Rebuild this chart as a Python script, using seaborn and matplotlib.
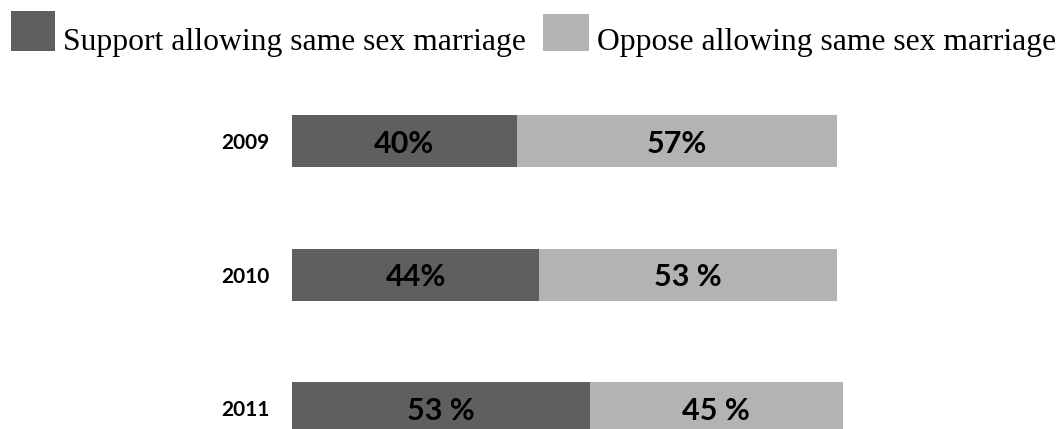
import matplotlib
matplotlib.use("Agg")
import matplotlib.pyplot as plt
import seaborn as sns
import pandas as pd
from matplotlib.patches import Rectangle

years = ["2009", "2010", "2011"]
support = [40, 44, 53]
oppose = [57, 53, 45]
support_labels = ["40%", "44%", "53 %"]
oppose_labels = ["57%", "53 %", "45 %"]
legend_labels = ["Support allowing same sex marriage", "Oppose allowing same sex marriage"]

DARK = "#5f5f5f"
LIGHT = "#b3b3b3"

sns.set_theme(style="white")
plt.rcParams["font.family"] = ["Lato", "DejaVu Sans"]

df = pd.DataFrame({"year": years, "support": support, "oppose": oppose})
df["total"] = df["support"] + df["oppose"]

W, H = 1063, 429
fig = plt.figure(figsize=(W / 100, H / 100), dpi=100)
ax = fig.add_axes([292 / W, 0, 562 / W, 316 / H])

sns.barplot(data=df, y="year", x="total", color=LIGHT, saturation=1, width=0.39,
            orient="h", ax=ax, linewidth=0)
sns.barplot(data=df, y="year", x="support", color=DARK, saturation=1, width=0.39,
            orient="h", ax=ax, linewidth=0)

for i in range(len(years)):
    ax.text(support[i] / 2, i + 0.02, support_labels[i], ha="center", va="center",
            fontsize=22, fontweight="bold", color="#000000")
    ax.text(support[i] + oppose[i] / 2, i + 0.02, oppose_labels[i], ha="center", va="center",
            fontsize=22, fontweight="bold", color="#000000")

ax.set_xlim(0, 100)
ax.set_ylim(2.157, -0.21)
ax.set_xlabel("")
ax.set_ylabel("")
ax.set_xticks([])
ax.tick_params(axis="y", length=0, pad=16)
for lab in ax.get_yticklabels():
    lab.set_fontweight("bold")
    lab.set_fontsize(15)
    lab.set_color("#000000")
for s in ax.spines.values():
    s.set_visible(False)

# legend drawn as figure-level patches and text
legend_items = [
    (DARK, 11, 11, 44, 40, 63),
    (LIGHT, 543, 14, 46, 37, 597),
]
for (col, x0, y0, w, h, tx), label in zip(legend_items, legend_labels):
    fig.add_artist(Rectangle((x0 / W, 1 - (y0 + h) / H), w / W, h / H,
                             transform=fig.transFigure, facecolor=col, edgecolor="none"))
    fig.text(tx / W, 1 - 50 / H, label, ha="left", va="baseline",
             family="Liberation Serif", fontsize=22.8, color="#000000")

fig.savefig("out.png", dpi=100, facecolor="white")
